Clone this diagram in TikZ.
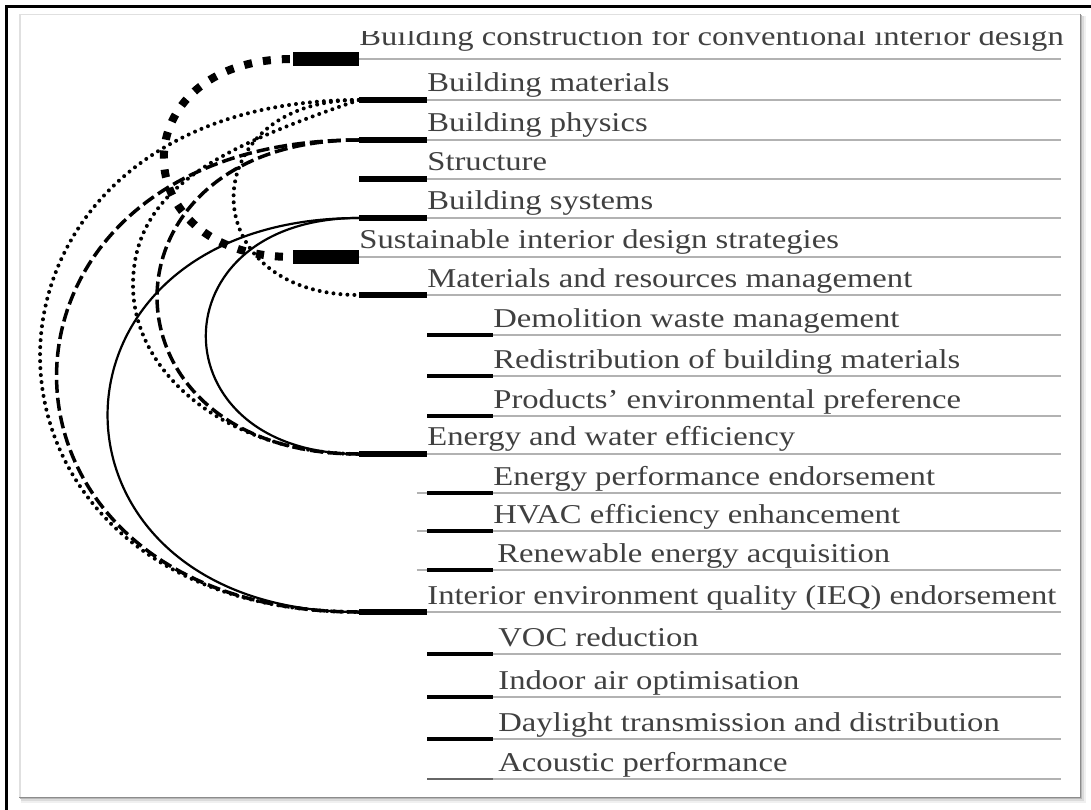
\documentclass[tikz,border=0pt]{standalone}
\usepackage{fontspec}
\setmainfont{Liberation Serif}[FakeStretch=1.2]
\begin{document}
\begin{tikzpicture}[x=1pt,y=-1pt,
  bar0/.style={rectangle,fill=black,inner sep=0pt,minimum width=66pt,minimum height=14pt},
  bar1/.style={rectangle,fill=black,inner sep=0pt,minimum width=68pt,minimum height=6.5pt},
  bar2/.style={rectangle,fill=black,inner sep=0pt,minimum width=66pt,minimum height=4pt},
  rule/.style={draw=black!30,line width=2pt},
  lbl/.style={anchor=base west,inner sep=0pt,text=black!75,font=\fontsize{27.2}{30}\selectfont},
  heavydots/.style={line width=8pt,dash pattern=on 8pt off 11pt,dash phase=16pt},
  dotline/.style={line width=4pt,line cap=round,dash pattern=on 0pt off 7pt},
  dashline/.style={line width=3.5pt,dash pattern=on 13pt off 5pt},
  solidline/.style={line width=2.2pt}]
\useasboundingbox (0,0) rectangle (1091,810);
\fill[white] (0,0) rectangle (1091,810);
% outer frame
\draw[line width=3pt] (6.5,810) -- (6.5,6.5) -- (1091,6.5);
% panel with drop shadow
\fill[black!6] (21,16) rectangle (1086,803);
\fill[black!14] (21,16) rectangle (1084,801);
\fill[black!28] (20,15) rectangle (1082,799);
\fill[white] (19,14) rectangle (1080,797);
\draw[black!45,line width=1.5pt] (1080.5,14) -- (1080.5,797.5) -- (19,797.5);
\draw[black!12,line width=1.5pt] (19.75,797) -- (19.75,14.75) -- (1080,14.75);
\coordinate (rx) at (1061,0);

% bars
\node[bar0] (con) at (326,59) {};
\node[bar1] (bm)  at (393,100) {};
\node[bar1] (bp)  at (393,140) {};
\node[bar1] (st)  at (393,179) {};
\node[bar1] (bs)  at (393,218) {};
\node[bar0] (sus) at (326,257) {};
\node[bar1] (mrm) at (393,295) {};
\node[bar2] (dwm) at (460,335) {};
\node[bar2] (rbm) at (460,376) {};
\node[bar2] (pep) at (460,416) {};
\node[bar1] (ewe) at (393,454) {};
\node[bar2] (epe) at (460,493) {};
\node[bar2] (hee) at (460,531) {};
\node[bar2] (rea) at (460,570) {};
\node[bar1] (ieq) at (393,612) {};
\node[bar2] (voc) at (460,654) {};
\node[bar2] (iao) at (460,697) {};
\node[bar2] (dtd) at (460,739) {};
\node[bar2,minimum height=2pt,fill=black!60] (acp) at (460,779) {};

% grey rules
\begin{scope}[on background layer/.style={}]
\foreach \n in {con,bm,bp,st,bs,sus,mrm,dwm,rbm,pep,ewe,ieq,voc,iao,dtd,acp}
  \draw[rule] (\n.east) -- (\n.east -| rx);
\foreach \n in {epe,hee,rea}
  \draw[rule] ([xshift=-10pt]\n.west) -- (\n.east -| rx);
\end{scope}

% connectors
\coordinate (turn) at (133,285);
\draw[heavydots] (con.west) .. controls +(-172,0) and +(-172,0) .. (sus.west);
\draw[dotline] (bm.west) .. controls +(-167,0) and +(-167,0) .. (mrm.west);
\draw[dotline] (bm.west) .. controls +(-130,45) and +(0,-100) .. (turn)
  .. controls +(0,93) and +(-125,0) .. (ewe.west);
\draw[dotline] (bm.west) .. controls +(-425,0) and +(-425,0) .. (ieq.west);
\draw[dashline] (bp.west) .. controls +(-269,0) and +(-269,0) .. (ewe.west);
\draw[dashline] (bp.west) .. controls +(-403,0) and +(-403,0) .. (ieq.west);
\draw[solidline] (bs.west) .. controls +(-204,0) and +(-204,0) .. (ewe.west);
\draw[solidline] (bs.west) .. controls +(-335,0) and +(-335,0) .. (ieq.west);

% redraw bars on top of rules
\foreach \n in {con,bm,bp,st,bs,sus,mrm,ewe,ieq}
  \fill[black] (\n.south west) rectangle (\n.north east);
\foreach \n in {epe,hee,rea}
  \fill[black] (\n.south west) rectangle (\n.north east);

% labels
\begin{scope}
  \clip (300,32) rectangle (1081,57);
  \node[lbl] (con-t) at ([yshift=13pt]con.east) {Building construction for conventional interior design};
\end{scope}
\node[lbl] (bm-t)  at ([yshift=8pt]bm.east)  {Building materials};
\node[lbl] (bp-t)  at ([yshift=8pt]bp.east)  {Building physics};
\node[lbl] (st-t)  at ([yshift=8pt]st.east)  {Structure};
\node[lbl] (bs-t)  at ([yshift=8pt]bs.east)  {Building systems};
\node[lbl] (sus-t) at ([yshift=9pt]sus.east) {Sustainable interior design strategies};
\node[lbl] (mrm-t) at ([yshift=8pt]mrm.east) {Materials and resources management};
\node[lbl] (dwm-t) at ([yshift=8pt]dwm.east) {Demolition waste management};
\node[lbl] (rbm-t) at ([yshift=8pt]rbm.east) {Redistribution of building materials};
\node[lbl] (pep-t) at ([yshift=8pt]pep.east) {Products’ environmental preference};
\node[lbl] (ewe-t) at ([yshift=9pt]ewe.east) {Energy and water efficiency};
\node[lbl] (epe-t) at ([yshift=8pt]epe.east) {Energy performance endorsement};
\node[lbl] (hee-t) at ([yshift=8pt]hee.east) {HVAC efficiency enhancement};
\node[lbl] (rea-t) at ([yshift=8pt,xshift=4pt]rea.east) {Renewable energy acquisition};
\node[lbl] (ieq-t) at ([yshift=8pt]ieq.east) {Interior environment quality (IEQ) endorsement};
\node[lbl] (voc-t) at ([yshift=8pt,xshift=5pt]voc.east) {VOC reduction};
\node[lbl] (iao-t) at ([yshift=8pt,xshift=5pt]iao.east) {Indoor air optimisation};
\node[lbl] (dtd-t) at ([yshift=8pt,xshift=5pt]dtd.east) {Daylight transmission and distribution};
\node[lbl] (acp-t) at ([yshift=8pt,xshift=5pt]acp.east) {Acoustic performance};
\end{tikzpicture}
\end{document}
